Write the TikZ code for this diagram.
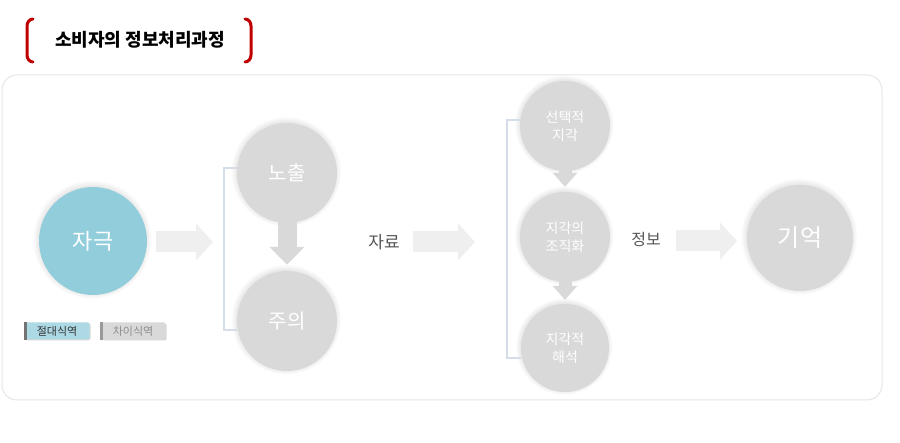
\documentclass[tikz,border=0pt]{standalone}
\usepackage{fontspec}
\setmainfont{Noto Sans CJK KR}
\usetikzlibrary{positioning,arrows.meta,shadows}

\definecolor{stimblue}{HTML}{92CDDC}
\definecolor{stagegray}{HTML}{D9D9D9}
\definecolor{flowgray}{HTML}{EFEFEF}
\definecolor{titlered}{HTML}{C00000}
\definecolor{linkblue}{HTML}{D5DEE8}
\definecolor{labelgray}{HTML}{555555}
\definecolor{panelline}{HTML}{E6E6E6}

\tikzset{
    stage/.style={circle, fill=stagegray, text=white, inner sep=0pt, align=center,
        circular drop shadow={opacity=0.25, shadow xshift=-1pt, shadow yshift=1.5pt}},
    flowarrow/.style={draw=flowgray, line width=21pt, -{Triangle[length=17pt,width=36pt]}},
    droparrow/.style={draw=stagegray, line width=19pt, -{Triangle[length=18pt,width=34pt]}},
    smallarrow/.style={draw=stagegray, line width=13pt, -{Triangle[length=14pt,width=24pt]}},
    linkline/.style={draw=linkblue, line width=1.2pt},
    tagbox/.style={rounded corners=1.5pt, minimum width=65pt, minimum height=17pt, inner sep=0pt,
        font=\fontsize{11}{11}\selectfont, drop shadow={opacity=0.3, shadow xshift=1pt, shadow yshift=-1pt}},
}

\begin{document}
\begin{tikzpicture}[x=1pt, y=-1pt]

    % Frame and title
    \useasboundingbox (0,0) rectangle (900,443);
    \draw[panelline, fill=white, rounded corners=15pt, line width=1pt] (2,75) rectangle (882,400);
    \draw[titlered, line width=3pt, line cap=round] (33,19) to[out=180, in=90] (27,26) -- (27,55) to[out=-90, in=180] (33,62);
    \draw[titlered, line width=3pt, line cap=round] (245,19) to[out=0, in=90] (251,26) -- (251,55) to[out=-90, in=0] (245,62);
    \node[font=\fontsize{18}{18}\selectfont\bfseries] (title) at (140,40) {소비자의 정보처리과정};

    % Stages
    \node[stage, fill=stimblue, minimum size=108pt, font=\fontsize{22}{22}\selectfont] (stim) at (93,241) {자극};
    \node[stage, minimum size=100pt, font=\fontsize{20}{20}\selectfont] (expo) at (287,173) {노출};
    \node[stage, minimum size=100pt, font=\fontsize{20}{20}\selectfont] (attn) at (287,321) {주의};
    \node[stage, minimum size=90pt, font=\fontsize{14}{18}\selectfont] (select) at (565,126) {선택적\\지각};
    \node[stage, minimum size=90pt, font=\fontsize{14}{18}\selectfont] (organize) at (565,237) {지각의\\조직화};
    \node[stage, minimum size=88pt, font=\fontsize{14}{18}\selectfont] (interpret) at (565,348) {지각적\\해석};
    \node[stage, minimum size=106pt, font=\fontsize{24}{24}\selectfont] (memory) at (800,238) {기억};

    % Labels on the way
    \node[text=labelgray, inner sep=0pt, font=\fontsize{17}{17}\selectfont] (data) at (384,242) {자료};
    \node[text=labelgray, inner sep=0pt, font=\fontsize{16}{16}\selectfont] (info) at (646,240) {정보};

    % Threshold tags
    \node[tagbox, fill=stimblue!75, text=black!80] (absolute) at (57,331) {절대식역};
    \node[tagbox, fill=stagegray, text=black!45] (difference) at (133,331) {차이식역};
    \fill[black!55] (absolute.north west) rectangle ([xshift=3pt]absolute.south west);
    \fill[black!40] (difference.north west) rectangle ([xshift=3pt]difference.south west);

    % Grouping lines
    \draw[linkline] (expo.west |- 0,168) -| (224,250) |- (attn.west |- 0,330);
    \draw[linkline] (select.west |- 0,120) -| (507,250) |- (interpret.west |- 0,358);

    % Flow arrows
    \coordinate (expoin) at (213,242);
    \coordinate (selectin) at (475,242);
    \coordinate (memoryin) at (737,241);
    \draw[flowarrow] ([xshift=9pt]stim.east |- expoin) -- (expoin);
    \draw[flowarrow] ([xshift=13pt]data.east |- selectin) -- (selectin);
    \draw[flowarrow] ([xshift=15pt]info.east |- memoryin) -- (memoryin);
    \draw[droparrow] ([yshift=4pt]expo.south) -- ([yshift=6pt]attn.north);
    \draw[smallarrow] ([yshift=4pt]select.south) -- ([yshift=5pt]organize.north);
    \draw[smallarrow] ([yshift=4pt]organize.south) -- ([yshift=4pt]interpret.north);

\end{tikzpicture}
\end{document}
